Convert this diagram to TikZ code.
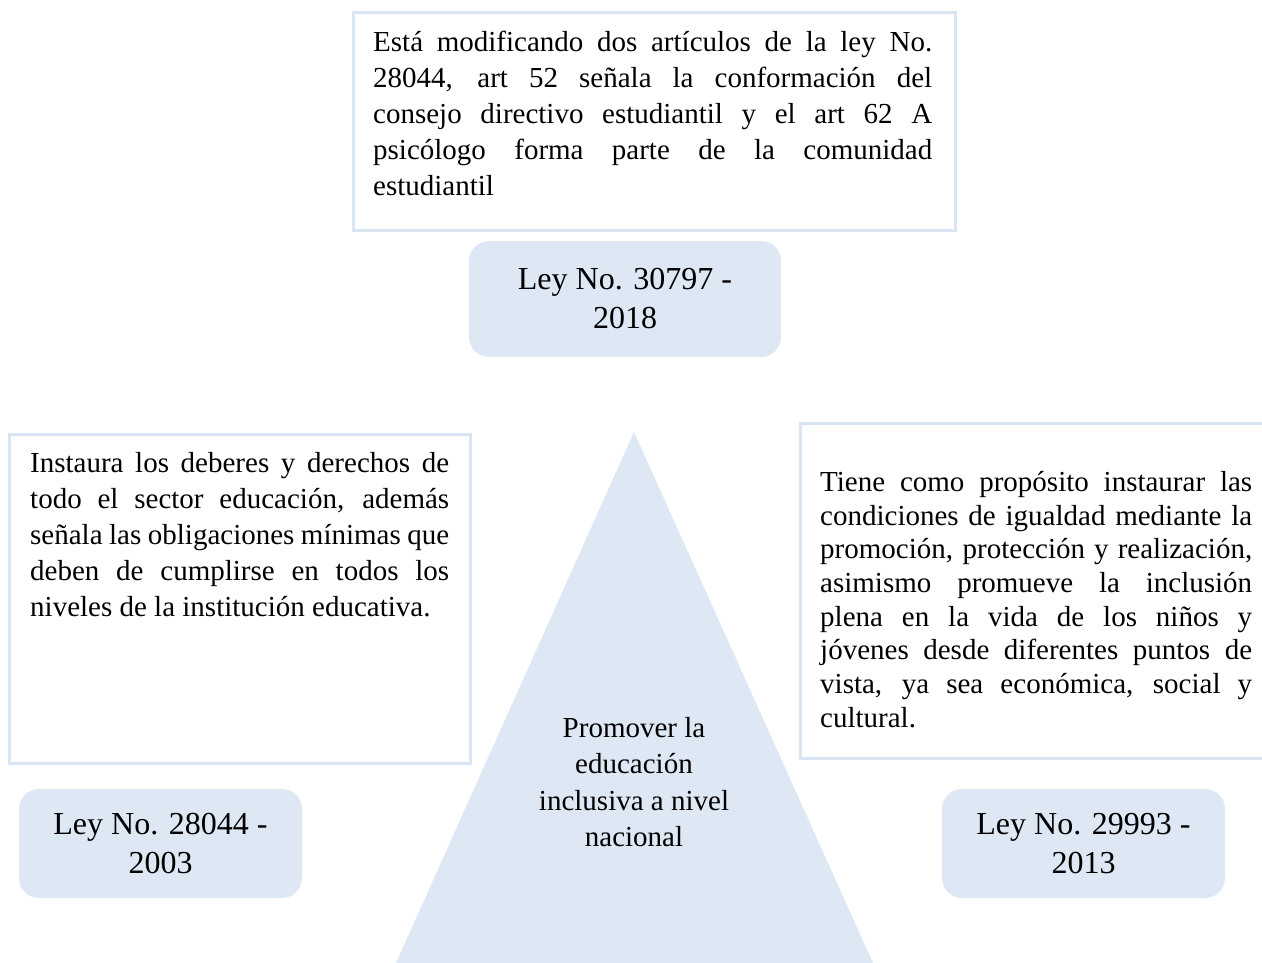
\documentclass[tikz,border=0pt]{standalone}
\usepackage{fontspec}
\setmainfont{Liberation Serif}
\usetikzlibrary{positioning}
\definecolor{azulclaro}{HTML}{DEE8F5}
\definecolor{bordeazul}{HTML}{DAE5F3}
\hyphenpenalty=10000
\tolerance=10000
\tikzset{
	marco/.style={draw=bordeazul, line width=3pt, fill=white, inner sep=0pt},
	ley/.style={fill=azulclaro, rounded corners=20pt, align=center, inner sep=0pt,
		font=\fontsize{32}{39}\selectfont},
	parrafo/.style={anchor=north west, inner sep=0pt, align=justify,
		font=\fontsize{29}{36}\selectfont}
}

\begin{document}
\begin{tikzpicture}[x=1pt, y=-1pt]
	\useasboundingbox (0, 0) rectangle (1262, 963);
	\clip (0, 0) rectangle (1262, 963);
	% triangulo central
	\fill[azulclaro] (634, 432) -- (873, 963) -- (396, 963) -- cycle;
	\node[align=center, inner sep=0pt, font=\fontsize{29}{36.3}\selectfont] (objetivo) at (634, 782) {Promover la\\educación\\inclusiva a nivel\\nacional};
	% ley 30797
	\node[marco, minimum width=602pt, minimum height=217pt] (marco30797) at (654, 121.5) {};
	\node[parrafo, text width=559pt] (texto30797) at (373, 31) {Está modificando dos artículos de la ley No. \linebreak 28044, art 52 señala la conformación del \linebreak consejo directivo estudiantil y el art 62 A \linebreak psicólogo forma parte de la comunidad \linebreak estudiantil};
	\node[ley, minimum width=312pt, minimum height=116pt] (ley30797) at (625, 299) {Ley No. 30797 -\\2018};
	% ley 28044
	\node[marco, minimum width=461pt, minimum height=329pt] (marco28044) at (239.5, 598.5) {};
	\node[parrafo, text width=419pt] (texto28044) at (30, 452) {Instaura los deberes y derechos de \linebreak todo el sector educación, además \linebreak señala las obligaciones mínimas que \linebreak deben de cumplirse en todos los \linebreak niveles de la institución educativa.};
	\node[ley, minimum width=283pt, minimum height=109pt] (ley28044) at (160.5, 843.5) {Ley No. 28044 -\\2003};
	% ley 29993
	\node[marco, minimum width=480pt, minimum height=335pt] (marco29993) at (1040, 590.5) {};
	\node[parrafo, text width=432pt, font=\fontsize{29}{33.7}\selectfont] (texto29993) at (820, 471) {Tiene como propósito instaurar las \linebreak condiciones de igualdad mediante la \linebreak promoción, protección y realización, \linebreak asimismo promueve la inclusión \linebreak plena en la vida de los niños y \linebreak jóvenes desde diferentes puntos de \linebreak vista, ya sea económica, social y \linebreak cultural.};
	\node[ley, minimum width=283pt, minimum height=109pt] (ley29993) at (1083.5, 843.5) {Ley No. 29993 -\\2013};
\end{tikzpicture}
\end{document}
